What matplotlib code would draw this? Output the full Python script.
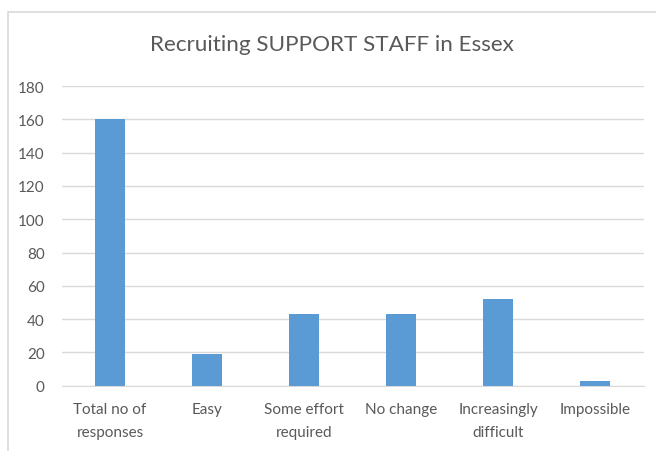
import matplotlib.pyplot as plt
from matplotlib.patches import Rectangle

categories = ["Total no of\nresponses", "Easy", "Some effort\nrequired", "No change",
              "Increasingly\ndifficult", "Impossible"]
counts = [160, 19, 43, 43, 52, 3]
yticks = [0, 20, 40, 60, 80, 100, 120, 140, 160, 180]

plt.rcParams['font.family'] = ['Lato', 'DejaVu Sans']

fig = plt.figure(figsize=(6.56, 4.52), dpi=100)
# chart border
fig.patches.append(Rectangle((8 / 656, -0.05), 1.0, 1 - 13 / 452 + 0.05,
                             transform=fig.transFigure, fill=False,
                             edgecolor='#d9d9d9', linewidth=1.2))

ax = fig.add_axes([61.5 / 656, 1 - 386.7 / 452, 582 / 656, (386.7 - 87) / 452])
x = range(len(categories))
ax.bar(x, counts, width=0.31, color='#5b9bd5', zorder=3)

ax.set_xlim(-0.5, len(categories) - 0.5)
ax.set_ylim(0, 180)
ax.set_yticks(yticks)
ax.set_xticks(list(x))
ax.set_xticklabels(categories, linespacing=1.75)
ax.grid(axis='y', color='#d9d9d9', linewidth=1, zorder=0)
ax.tick_params(length=0, colors='#595959', labelsize=11)
ax.tick_params(axis='x', pad=12)
ax.tick_params(axis='y', pad=12)
for side in ['top', 'right', 'left']:
    ax.spines[side].set_visible(False)
ax.spines['bottom'].set_color('#d9d9d9')

fig.text(0.5 * (8 + 656) / 656, 1 - 45 / 452, "Recruiting SUPPORT STAFF in Essex",
         ha='center', va='center', fontsize=16.2, color='#595959')

plt.savefig("out.png", dpi=100)
